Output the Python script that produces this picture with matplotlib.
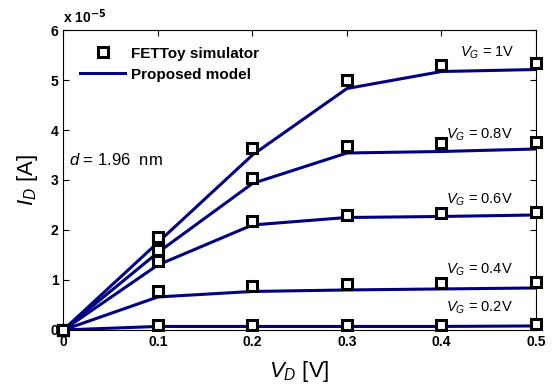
import numpy as np
import matplotlib.pyplot as plt

plt.rcParams['font.family'] = ['Liberation Sans', 'DejaVu Sans']
plt.rcParams['mathtext.fontset'] = 'custom'
plt.rcParams['mathtext.it'] = 'Liberation Sans:italic'
plt.rcParams['mathtext.rm'] = 'Liberation Sans'

## data (units of 1e-5 A)
vd = [0, 0.1, 0.2, 0.3, 0.4, 0.5]
vg_labels = ['1V', '0.8V', '0.6V', '0.4V', '0.2V']

sim = {
    '1V':   [0, 1.86, 3.63, 5.01, 5.30, 5.35],
    '0.8V': [0, 1.60, 3.03, 3.67, 3.73, 3.76],
    '0.6V': [0, 1.37, 2.17, 2.29, 2.33, 2.35],
    '0.4V': [0, 0.78, 0.88, 0.92, 0.94, 0.96],
    '0.2V': [0, 0.09, 0.09, 0.10, 0.10, 0.11],
}
model = {
    '1V':   [0, 1.75, 3.50, 4.83, 5.17, 5.21],
    '0.8V': [0, 1.55, 2.93, 3.54, 3.57, 3.62],
    '0.6V': [0, 1.30, 2.10, 2.25, 2.27, 2.30],
    '0.4V': [0, 0.66, 0.77, 0.80, 0.82, 0.84],
    '0.2V': [0, 0.07, 0.07, 0.07, 0.07, 0.08],
}
# label anchor (x, y) in data coords
label_pos = {
    '1V': (0.42, 5.55),
    '0.8V': (0.405, 3.9),
    '0.6V': (0.405, 2.6),
    '0.4V': (0.405, 1.2),
    '0.2V': (0.405, 0.44),
}

fig = plt.figure(figsize=(5.56, 3.85), dpi=100)
ax = fig.add_axes([0.114, 0.143, 0.850, 0.779])

navy = '#000080'
for k in vg_labels:
    ax.plot(vd, model[k], color=navy, lw=2.2, zorder=2,
            label='Proposed model' if k == '1V' else None)
for k in vg_labels:
    ax.plot(vd, sim[k], 's', ms=7.5, mfc='white', mec='black', mew=2.2,
            zorder=3, clip_on=False,
            label='FETToy simulator' if k == '1V' else None)

for k in vg_labels:
    x, y = label_pos[k]
    ax.text(x, y, r'$V_G$ = ' + k, fontsize=10.5, ha='left', va='center')

ax.text(0.006, 3.4, r'$d$ = 1.96  nm', fontsize=12, ha='left', va='center')

ax.set_xlim(0, 0.5)
ax.set_ylim(0, 6)
ax.set_xticks([0, 0.1, 0.2, 0.3, 0.4, 0.5])
ax.set_xticklabels(['0', '0.1', '0.2', '0.3', '0.4', '0.5'])
ax.set_yticks([0, 1, 2, 3, 4, 5, 6])
ax.tick_params(direction='in', top=True, right=True, length=4, labelsize=10)
for lab in ax.get_xticklabels() + ax.get_yticklabels():
    lab.set_fontweight('bold')

ax.set_xlabel(r'$V_D$ [V]', fontsize=16, labelpad=7)
ax.set_ylabel(r'$I_D$ [A]', fontsize=16, labelpad=8)
ax.text(0.0, 1.015, r'x 10$^{\mathbf{-5}}$', transform=ax.transAxes,
        fontsize=10, fontweight='bold', ha='left', va='bottom')

h, l = ax.get_legend_handles_labels()
leg = ax.legend(h[::-1], l[::-1], loc='upper left', frameon=False,
                prop={'weight': 'bold', 'size': 11}, handlelength=2.95,
                handletextpad=0.35, borderaxespad=0.7, labelspacing=0.45)

plt.savefig('out.png', dpi=100)
